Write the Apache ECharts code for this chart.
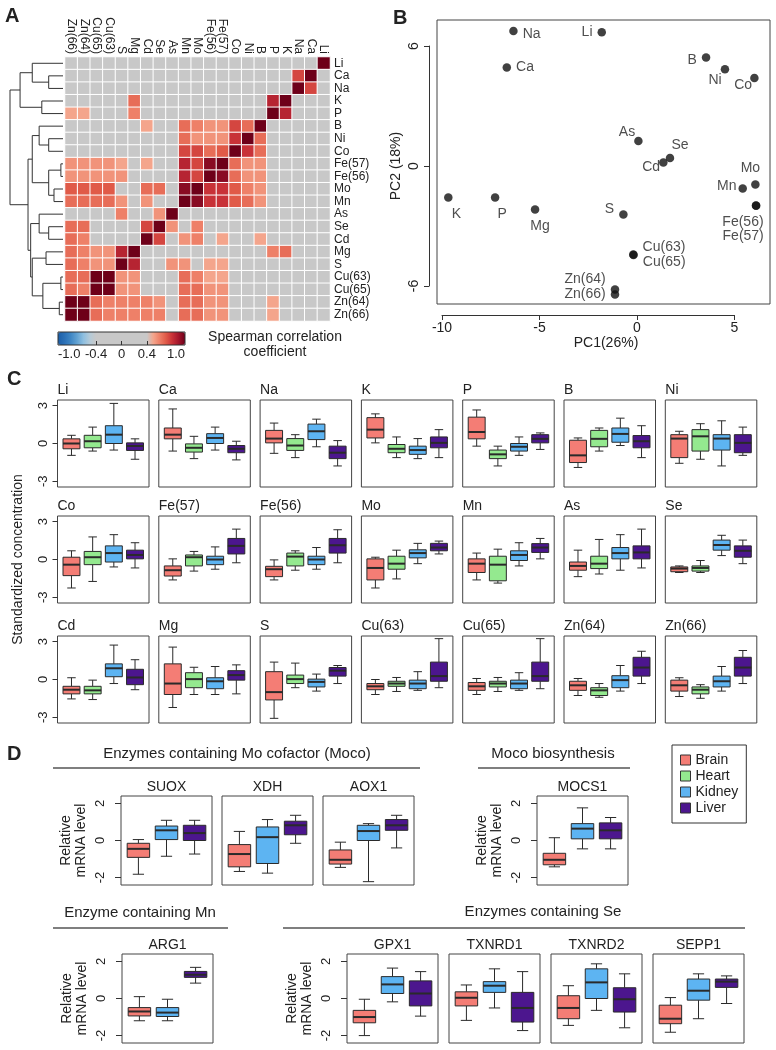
<!DOCTYPE html>
<html>
<head>
<meta charset="utf-8">
<script src="https://cdn.jsdelivr.net/npm/echarts@6/dist/echarts.min.js"></script>
<style>
  html, body { margin: 0; padding: 0; background: #fff; }
  #chart { width: 776px; height: 1050px; }
</style>
</head>
<body>
<div id="chart"></div>
<script>
const FONT = '"Liberation Sans", Arial, Helvetica, sans-serif';
const INK = '#222';

// ---------- A: correlation heatmap ----------
const elementRows = ['Li', 'Ca', 'Na', 'K', 'P', 'B', 'Ni', 'Co', 'Fe(57)', 'Fe(56)', 'Mo', 'Mn',
  'As', 'Se', 'Cd', 'Mg', 'S', 'Cu(63)', 'Cu(65)', 'Zn(64)', 'Zn(66)'];
const elementCols = ['Zn(66)', 'Zn(64)', 'Cu(65)', 'Cu(63)', 'S', 'Mg', 'Cd', 'Se', 'As', 'Mn', 'Mo',
  'Fe(56)', 'Fe(57)', 'Co', 'Ni', 'B', 'P', 'K', 'Na', 'Ca', 'Li'];
// one row per element (elementRows order), columns in elementCols order; 0 = not significant
const corrValues = [
  [0, 0, 0, 0, 0, 0, 0, 0, 0, 0, 0, 0, 0, 0, 0, 0, 0, 0, 0, 0, 1],
  [0, 0, 0, 0, 0, 0, 0, 0, 0, 0, 0, 0, 0, 0, 0, 0, 0, 0, .75, 1, 0],
  [0, 0, 0, 0, 0, 0, 0, 0, 0, 0, 0, 0, 0, 0, 0, 0, 0, 0, 1, .75, 0],
  [0, 0, 0, 0, 0, .65, 0, 0, 0, 0, 0, 0, 0, 0, 0, 0, .85, 1, 0, 0, 0],
  [.5, .5, 0, 0, 0, .6, 0, 0, 0, 0, 0, 0, 0, 0, 0, 0, 1, .85, 0, 0, 0],
  [0, 0, 0, 0, 0, 0, .5, 0, 0, .65, .6, .55, .55, .75, .65, 1, 0, 0, 0, 0, 0],
  [0, 0, 0, 0, 0, 0, 0, 0, 0, .65, .55, .55, .55, .8, 1, .65, 0, 0, 0, 0, 0],
  [0, 0, 0, 0, 0, 0, 0, 0, 0, .75, .75, .65, .7, 1, .8, .65, 0, 0, 0, 0, 0],
  [.55, .55, .55, .55, .5, 0, .5, 0, 0, .85, .75, .95, 1, .65, .55, .55, 0, 0, 0, 0, 0],
  [.55, .55, .55, .55, .55, 0, 0, 0, 0, .85, .75, 1, .95, .65, .55, .55, 0, 0, 0, 0, 0],
  [.7, .7, .7, .7, 0, 0, .65, .65, 0, .95, 1, .8, .8, .7, .6, .55, 0, 0, 0, 0, 0],
  [.65, .65, .65, .65, .55, 0, .55, 0, 0, 1, .95, .8, .8, .7, .65, .55, 0, 0, 0, 0, 0],
  [0, 0, 0, 0, .6, 0, 0, .55, 1, 0, 0, 0, 0, 0, 0, 0, 0, 0, 0, 0, 0],
  [.65, .65, 0, 0, 0, 0, .75, 1, .55, 0, .6, 0, 0, 0, 0, 0, 0, 0, 0, 0, 0],
  [.65, .6, 0, 0, 0, 0, 1, .75, 0, .55, .6, 0, .5, 0, 0, .5, 0, 0, 0, 0, 0],
  [.65, .6, .55, .55, .85, 1, 0, 0, 0, 0, 0, 0, 0, 0, 0, 0, .6, .65, 0, 0, 0],
  [.65, .6, .55, .55, 1, .85, 0, 0, .55, .55, 0, .5, .5, 0, 0, 0, 0, 0, 0, 0, 0],
  [.65, .65, 1, 1, .55, .55, 0, 0, 0, .65, .6, .5, .5, 0, 0, 0, 0, 0, 0, 0, 0],
  [.65, .6, 1, 1, .55, .55, 0, 0, 0, .65, .65, .55, .55, 0, 0, 0, 0, 0, 0, 0, 0],
  [1, 1, .65, .6, .6, .6, .6, .55, 0, .65, .65, .55, .55, 0, 0, 0, .5, 0, 0, 0, 0],
  [1, 1, .65, .6, .6, .6, .6, .6, 0, .65, .65, .55, .55, 0, 0, 0, .5, 0, 0, 0, 0]
];
// dendrogram merges: [left, right, height]; strings are leaves, numbers refer to earlier merges
const dendroMerges = [
  ['Ca', 'Na', 0.27], ['Li', 0, 0.58], ['K', 'P', 0.40], [1, 2, 0.81],
  ['Ni', 'Co', 0.27], ['B', 4, 0.45], ['Fe(57)', 'Fe(56)', 0.04], ['Mo', 'Mn', 0.17],
  [6, 7, 0.27], [5, 8, 0.58], ['Se', 'Cd', 0.27], ['As', 10, 0.45],
  ['Mg', 'S', 0.32], ['Cu(63)', 'Cu(65)', 0.04], ['Zn(64)', 'Zn(66)', 0.07], [13, 14, 0.38],
  [12, 15, 0.58], [11, 16, 0.61], [9, 17, 0.66], [3, 18, 1.0]
];
const colorbarLabels = [-1.0, -0.4, 0, 0.4, 1.0];

// ---------- B: PCA ----------
const pcaNames = ['Na', 'Li', 'Ca', 'B', 'Ni', 'Co', 'As', 'Se', 'Cd', 'Mo', 'Mn', 'Fe(56)', 'Fe(57)',
  'K', 'P', 'Mg', 'S', 'Cu(63)', 'Cu(65)', 'Zn(64)', 'Zn(66)'];
const pcaX = [-6.34, -1.81, -6.68, 3.54, 4.51, 6.02, 0.07, 1.69, 1.35, 6.07, 5.42, 6.10, 6.11,
  -9.68, -7.28, -5.23, -0.70, -0.19, -0.18, -1.13, -1.13];
const pcaY = [6.75, 6.69, 4.92, 5.42, 4.84, 4.40, 1.25, 0.40, 0.17, -0.92, -1.13, -1.97, -1.99,
  -1.58, -1.58, -2.18, -2.42, -4.43, -4.45, -6.18, -6.42];

// ---------- C: standardized concentrations, [min, q1, median, q3, max] per element ----------
const cElements = elementRows;
const cBrain = [
  [-0.94, -0.42, 0, 0.37, 0.65], [-0.6, 0.37, 0.7, 1.23, 2.74], [-0.78, 0.05, 0.39, 1.04, 1.62],
  [0.05, 0.44, 1.1, 2.05, 2.35], [-0.21, 0.37, 0.91, 2.09, 2.66], [-1.9, -1.51, -0.94, 0.26, 0.44],
  [-1.57, -1.12, 0.39, 0.7, 0.97], [-2.26, -1.28, -0.41, 0.18, 0.69], [-1.62, -1.31, -0.85, -0.51, 0.05],
  [-1.62, -1.36, -0.77, -0.54, -0.03], [-2.26, -1.62, -0.67, 0.05, 0.18], [-1.62, -1.03, -0.33, 0.05, 0.51],
  [-1.36, -0.85, -0.51, -0.2, 0.74], [-1.03, -0.97, -0.72, -0.59, -0.51], [-1.54, -1.14, -0.81, -0.54, 0.14],
  [-2.22, -1.19, -0.32, 1.24, 2.57], [-3.08, -1.62, -1.0, 0.62, 1.38], [-1.19, -0.81, -0.54, -0.32, 0],
  [-1.19, -0.86, -0.54, -0.24, 0.08], [-1.27, -0.86, -0.46, -0.14, 0.08], [-1.35, -0.92, -0.46, -0.05, 0.14]
];
const cHeart = [
  [-0.6, -0.34, 0.18, 0.65, 1.3], [-1.2, -0.68, -0.34, -0.03, 0.57], [-1.12, -0.55, -0.16, 0.39, 0.7],
  [-1.12, -0.73, -0.42, -0.08, 0.52], [-1.78, -1.2, -0.86, -0.52, -0.21], [-0.6, -0.26, 0.37, 1.04, 1.23],
  [-1.25, -0.6, 0.57, 1.1, 1.57], [-1.74, -0.41, 0.18, 0.64, 1.79], [-0.92, -0.51, 0.18, 0.36, 0.64],
  [-0.85, -0.51, 0.23, 0.51, 0.69], [-1.54, -0.77, -0.33, 0.26, 0.74], [-1.87, -1.69, -0.41, 0.26, 0.82],
  [-1.15, -0.72, -0.33, 0.26, 1.59], [-1.03, -0.92, -0.67, -0.51, -0.08], [-1.59, -1.14, -0.86, -0.54, -0.05],
  [-1.19, -0.65, 0.03, 0.54, 0.97], [-0.65, -0.32, 0.03, 0.35, 1.3], [-0.95, -0.54, -0.32, -0.14, 0.16],
  [-0.95, -0.59, -0.32, -0.14, 0.16], [-1.41, -1.27, -0.86, -0.65, -0.32], [-1.49, -1.14, -0.81, -0.59, -0.41]
];
const cKidney = [
  [-0.52, 0, 0.7, 1.41, 3.18], [-0.52, 0, 0.44, 0.78, 1.3], [-0.26, 0.31, 0.97, 1.54, 1.93],
  [-1.2, -0.86, -0.52, -0.21, 0.39], [-0.94, -0.6, -0.26, 0, 0.52], [-0.16, 0.1, 0.76, 1.23, 2.01],
  [-1.78, -0.52, 0.39, 0.7, 1.8], [-0.59, -0.2, 0.51, 1.08, 1.97], [-0.77, -0.41, 0, 0.26, 1.0],
  [-0.77, -0.41, 0, 0.26, 0.95], [-0.33, 0.13, 0.51, 0.77, 1.28], [-0.51, -0.08, 0.36, 0.69, 1.33],
  [-0.85, 0.05, 0.51, 0.95, 1.97], [0.31, 0.74, 1.15, 1.54, 1.92], [-0.32, 0.22, 0.89, 1.24, 2.73],
  [-1.19, -0.73, -0.14, 0.14, 1.03], [-0.92, -0.59, -0.19, 0.03, 0.43], [-0.86, -0.73, -0.32, -0.05, 0.62],
  [-0.86, -0.73, -0.32, -0.05, 0.54], [-0.92, -0.65, -0.05, 0.3, 1.11], [-0.92, -0.59, -0.14, 0.27, 1.03]
];
const cLiver = [
  [-1.25, -0.55, -0.2, 0.05, 0.37], [-1.3, -0.73, -0.42, -0.16, 0.18], [-1.78, -1.2, -0.73, -0.21, 0.23],
  [-1.12, -0.34, 0.05, 0.52, 1.1], [-0.47, 0.05, 0.37, 0.7, 0.84], [-1.12, -0.34, 0.18, 0.63, 1.41],
  [-0.94, -0.73, 0.05, 0.7, 1.3], [-0.67, 0.05, 0.36, 0.74, 1.33], [-0.26, 0.44, 1.08, 1.67, 2.41],
  [-0.26, 0.51, 1.13, 1.67, 2.36], [0.44, 0.69, 0.95, 1.28, 1.46], [0.05, 0.56, 0.95, 1.26, 1.67],
  [-0.67, 0.05, 0.56, 1.08, 2.41], [-0.33, 0.18, 0.69, 1.08, 1.54], [-0.81, -0.41, 0.16, 0.81, 1.57],
  [-1.14, -0.05, 0.35, 0.7, 1.16], [-0.32, 0.27, 0.7, 0.95, 1.11], [-0.65, -0.14, 0.27, 1.38, 3.24],
  [-0.73, -0.14, 0.27, 1.38, 3.24], [-0.32, 0.27, 0.95, 1.76, 2.24], [-0.32, 0.27, 0.95, 1.76, 2.3]
];

// ---------- D: relative mRNA levels, [min, q1, median, q3, max] ----------
const dGenes = ['SUOX', 'XDH', 'AOX1', 'MOCS1', 'ARG1', 'GPX1', 'TXNRD1', 'TXNRD2', 'SEPP1'];
const dBrain = [
  [-1.82, -0.91, -0.45, -0.15, 0.05], [-1.67, -1.42, -0.73, -0.22, 0.49], [-1.45, -1.27, -1.04, -0.51, -0.09],
  [-1.42, -1.31, -1.04, -0.69, 0.15], [-1.2, -0.94, -0.7, -0.49, 0.1], [-2.0, -1.31, -1.0, -0.64, -0.04],
  [-1.18, -0.4, 0.04, 0.36, 0.73], [-1.45, -1.09, -0.51, 0.15, 0.69], [-1.82, -1.36, -1.09, -0.36, 0.05]
];
const dKidney = [
  [-0.85, 0.05, 0.55, 0.78, 1.09], [-1.76, -1.24, 0.18, 0.73, 1.13], [-2.22, 0, 0.51, 0.82, 0.91],
  [-0.45, 0.09, 0.64, 0.91, 1.76], [-1.2, -0.97, -0.76, -0.49, -0.04], [-0.18, 0.27, 0.76, 1.18, 1.64],
  [-0.51, 0.33, 0.69, 0.91, 1.6], [-0.64, 0, 0.87, 1.6, 1.87], [-1.09, -0.09, 0.42, 1.05, 1.33]
];
const dLiver = [
  [-0.73, 0, 0.4, 0.82, 1.09], [-0.15, 0.31, 0.82, 1.04, 1.36], [-0.4, 0.55, 0.82, 1.13, 1.36],
  [-0.45, 0.09, 0.55, 0.95, 1.24], [0.83, 1.14, 1.28, 1.46, 1.68], [-0.95, -0.4, 0.27, 0.95, 1.45],
  [-1.73, -1.27, -0.51, 0.33, 1.45], [-1.58, -0.73, -0.04, 0.58, 1.33], [-0.27, 0.6, 0.91, 1.05, 1.22]
];

const tissueNames = ['Brain', 'Heart', 'Kidney', 'Liver'];
const tissueColors = ['#f47d75', '#94e98f', '#5db4f2', '#4c168e'];

// ---------- layout ----------
const cLefts = [57.5, 158.8, 260.1, 361.4, 462.7, 564, 665.3];
const cTops = [400, 516, 636];
const C_W = 91.5, C_H = 87;
const dPanels = [[121, 796], [222, 796], [323, 796], [537, 796], [122, 954], [347, 954], [449, 954], [551, 954], [653, 954]];
const dWithAxis = [true, false, false, true, true, true, false, false, false];
const D_W = 91, D_H = 89;
const pcaLabelPos = {
  'Na': ['right', [0, 3]], 'Li': ['left', [0, 0]], 'Ca': ['right', [0, 0]], 'B': ['left', [0, 3]],
  'Ni': ['left', [6, 11]], 'Co': ['left', [7, 7]], 'As': ['left', [6, -9]], 'Se': ['top', [10, 3]],
  'Cd': ['left', [6, 5]], 'Mo': ['top', [-5, 0]], 'Mn': ['left', [3, -2]], 'Fe(56)': ['bottom', [-13, 0]],
  'Fe(57)': ['bottom', [-13, 14]], 'K': ['bottom', [8, 0]], 'P': ['bottom', [7, 0]], 'Mg': ['bottom', [5, 0]],
  'S': ['left', [0, -5]], 'Cu(63)': ['right', [0, -7]], 'Cu(65)': ['right', [0, 7]],
  'Zn(64)': ['left', [0, -10]], 'Zn(66)': ['left', [0, 0]]
};

function txt(size, extra) {
  return Object.assign({ fontFamily: FONT, fontSize: size, color: INK, fontWeight: 'normal' }, extra || {});
}

function renderBox(params, api) {
  const x = api.value(0);
  const lo = api.coord([x, api.value(1)]);
  const q1 = api.coord([x, api.value(2)]);
  const md = api.coord([x, api.value(3)]);
  const q3 = api.coord([x, api.value(4)]);
  const hi = api.coord([x, api.value(5)]);
  const w = api.size([0.8, 0])[0];
  const cx = md[0];
  const ink = { stroke: '#2a2a2a', lineWidth: 1 };
  return {
    type: 'group',
    children: [
      { type: 'line', shape: { x1: cx, y1: hi[1], x2: cx, y2: q3[1] }, style: ink },
      { type: 'line', shape: { x1: cx, y1: q1[1], x2: cx, y2: lo[1] }, style: ink },
      { type: 'line', shape: { x1: cx - w / 4, y1: hi[1], x2: cx + w / 4, y2: hi[1] }, style: ink },
      { type: 'line', shape: { x1: cx - w / 4, y1: lo[1], x2: cx + w / 4, y2: lo[1] }, style: ink },
      { type: 'rect', shape: { x: cx - w / 2, y: q3[1], width: w, height: q1[1] - q3[1] },
        style: { fill: api.visual('color'), stroke: '#2a2a2a', lineWidth: 1 } },
      { type: 'line', shape: { x1: cx - w / 2, y1: md[1], x2: cx + w / 2, y2: md[1] },
        style: { stroke: '#2a2a2a', lineWidth: 2 } }
    ]
  };
}

const grids = [], xAxes = [], yAxes = [], series = [], titles = [];
function addGrid(g, xa, ya) {
  const idx = grids.length;
  grids.push(g);
  xAxes.push(Object.assign({ gridIndex: idx }, xa));
  yAxes.push(Object.assign({ gridIndex: idx }, ya));
  return idx;
}
const hidden = { type: 'value', show: false };

// A: heatmap grid
const gHeat = addGrid({ left: 65, top: 57, width: 265, height: 264 },
  { type: 'category', data: elementCols, position: 'top',
    axisLine: { show: false }, axisTick: { show: false },
    axisLabel: Object.assign({ rotate: 90, interval: 0, margin: 3 }, txt(12)) },
  { type: 'category', data: elementRows, inverse: true, position: 'right',
    axisLine: { show: false }, axisTick: { show: false },
    axisLabel: Object.assign({ interval: 0, margin: 4 }, txt(12)) });
const heatData = [];
corrValues.forEach((row, r) => row.forEach((v, c) => heatData.push([c, r, v])));
series.push({ type: 'heatmap', xAxisIndex: gHeat, yAxisIndex: gHeat, data: heatData,
  itemStyle: { borderColor: '#fff', borderWidth: 1 }, emphasis: { disabled: true } });

// A: dendrogram
const gDen = addGrid({ left: 10, top: 57, width: 53, height: 264 },
  { type: 'value', min: 0, max: 1, inverse: true, show: false },
  { type: 'value', min: -0.5, max: 20.5, inverse: true, show: false });
const denNodes = [], denLines = [];
dendroMerges.forEach(([a, b, h]) => {
  const pos = ref => typeof ref === 'string' ? { y: elementRows.indexOf(ref), h: 0 } : denNodes[ref];
  const A = pos(a), B = pos(b);
  denLines.push({ coords: [[A.h, A.y], [h, A.y], [h, B.y], [B.h, B.y]] });
  denNodes.push({ y: (A.y + B.y) / 2, h });
});
series.push({ type: 'lines', coordinateSystem: 'cartesian2d', xAxisIndex: gDen, yAxisIndex: gDen,
  polyline: true, data: denLines, silent: true,
  lineStyle: { color: '#333', width: 1, opacity: 1 } });

// A: colorbar axis
const gBar = addGrid({ left: 58, top: 332, width: 127, height: 13, show: true, borderColor: '#333', borderWidth: 1, z: 10 },
  { type: 'value', min: -1, max: 1, position: 'bottom', z: 10,
    axisLine: { show: false },
    axisTick: { show: true, inside: true, length: 4, customValues: [-0.4, 0, 0.4], lineStyle: { color: '#333' } },
    axisLabel: Object.assign({ customValues: colorbarLabels, margin: 3, alignMinLabel: 'left', alignMaxLabel: 'right',
      formatter: v => (v === 0 ? '0' : v.toFixed(1)) }, txt(13)),
    splitLine: { show: false } },
  hidden);

// B: scatter
const gPca = addGrid({ left: 437, top: 20, width: 333, height: 284, show: true, borderColor: '#444', borderWidth: 1 },
  { type: 'value', min: -10.26, max: 6.82, show: false },
  { type: 'value', min: -6.9, max: 7.3, show: false });
series.push({
  type: 'scatter', xAxisIndex: gPca, yAxisIndex: gPca, symbolSize: 8.5,
  itemStyle: { color: '#111' },
  data: pcaNames.map((n, i) => ({
    name: n, value: [pcaX[i], pcaY[i]],
    label: { show: true, formatter: '{b}', position: pcaLabelPos[n][0], offset: pcaLabelPos[n][1],
      distance: 5, fontFamily: FONT, fontSize: 14, color: INK }
  }))
});
const axisInk = { lineStyle: { color: '#333', width: 1 } };
addGrid({ left: 442, top: 300, width: 292.5, height: 15 },
  { type: 'value', min: -10, max: 5, interval: 5, position: 'bottom',
    axisLine: Object.assign({ show: true }, axisInk), axisTick: Object.assign({ show: true, length: 5 }, axisInk),
    axisLabel: Object.assign({ margin: 6 }, txt(14)), splitLine: { show: false } },
  hidden);
addGrid({ left: 429, top: 46, width: 10, height: 240 },
  hidden,
  { type: 'value', min: -6, max: 6, interval: 6, position: 'left',
    axisLine: Object.assign({ show: true }, axisInk), axisTick: Object.assign({ show: true, length: 5 }, axisInk),
    axisLabel: Object.assign({ rotate: 90, margin: 8 }, txt(14)), splitLine: { show: false },
    name: 'PC2 (18%)', nameLocation: 'middle', nameGap: 26, nameTextStyle: txt(14) });

// C: boxplot panels
const cColumns = [cBrain, cHeart, cKidney, cLiver];
cElements.forEach((el, i) => {
  const col = i % 7, row = Math.floor(i / 7);
  const withAxis = col === 0;
  const g = addGrid({ left: cLefts[col], top: cTops[row], width: C_W, height: C_H, show: true, borderColor: '#444', borderWidth: 1 },
    { type: 'value', min: 0.34, max: 4.66, show: false },
    { type: 'value', min: -3.45, max: 3.45, show: withAxis,
      axisLine: { show: false }, splitLine: { show: false },
      axisTick: Object.assign({ show: true, length: 5, customValues: [-3, 0, 3] }, axisInk),
      axisLabel: Object.assign({ customValues: [-3, 0, 3], rotate: 90, margin: 8 }, txt(13)),
      name: withAxis && row === 1 ? 'Standardized concentration' : '',
      nameLocation: 'middle', nameGap: 32, nameTextStyle: txt(14) });
  titles.push({ text: el, left: cLefts[col], top: cTops[row] - 17, padding: 0, textStyle: txt(14) });
  cColumns.forEach((arr, t) => {
    series.push({ type: 'custom', name: tissueNames[t], xAxisIndex: g, yAxisIndex: g,
      itemStyle: { color: tissueColors[t] }, renderItem: renderBox,
      encode: { x: 0, y: [1, 2, 3, 4, 5] }, data: [[t + 1].concat(arr[i])] });
  });
});

// D: mRNA panels (Brain, Kidney, Liver)
const dColumns = [[dBrain, 0], [dKidney, 2], [dLiver, 3]];
dGenes.forEach((gene, i) => {
  const [left, top] = dPanels[i];
  const g = addGrid({ left, top, width: D_W, height: D_H, show: true, borderColor: '#444', borderWidth: 1 },
    { type: 'value', min: 0.38, max: 3.62, show: false },
    { type: 'value', min: -2.4, max: 2.4, show: dWithAxis[i],
      axisLine: { show: false }, splitLine: { show: false },
      axisTick: Object.assign({ show: true, length: 6, customValues: [-2, 0, 2] }, axisInk),
      axisLabel: Object.assign({ customValues: [-2, 0, 2], rotate: 90, margin: 14 }, txt(13)),
      name: dWithAxis[i] ? 'Relative\nmRNA level' : '', nameLocation: 'middle', nameGap: 32,
      nameTextStyle: txt(14, { lineHeight: 15 }) });
  titles.push({ text: gene, left: left + D_W / 2, textAlign: 'center', top: top - 16, padding: 0, textStyle: txt(14) });
  dColumns.forEach(([arr, t], k) => {
    series.push({ type: 'custom', name: tissueNames[t], xAxisIndex: g, yAxisIndex: g,
      itemStyle: { color: tissueColors[t] }, renderItem: renderBox,
      encode: { x: 0, y: [1, 2, 3, 4, 5] }, data: [[k + 1].concat(arr[i])] });
  });
});

// text blocks
titles.push(
  { text: 'A', left: 5, top: 6, padding: 0, textStyle: txt(20, { fontWeight: 'bold' }) },
  { text: 'B', left: 393, top: 8, padding: 0, textStyle: txt(20, { fontWeight: 'bold' }) },
  { text: 'C', left: 7, top: 369, padding: 0, textStyle: txt(20, { fontWeight: 'bold' }) },
  { text: 'D', left: 7, top: 744, padding: 0, textStyle: txt(20, { fontWeight: 'bold' }) },
  { text: 'Spearman correlation\ncoefficient', left: 275, textAlign: 'center', top: 330, padding: 0,
    textStyle: txt(14, { lineHeight: 15 }) },
  { text: 'PC1(26%)', left: 606, textAlign: 'center', top: 336, padding: 0, textStyle: txt(14) },
  { text: 'Enzymes containing Mo cofactor (Moco)', left: 237, textAlign: 'center', top: 746, padding: 0, textStyle: txt(15) },
  { text: 'Moco biosynthesis', left: 553, textAlign: 'center', top: 746, padding: 0, textStyle: txt(15) },
  { text: 'Enzyme containing Mn', left: 140, textAlign: 'center', top: 905, padding: 0, textStyle: txt(15) },
  { text: 'Enzymes containing Se', left: 543, textAlign: 'center', top: 904, padding: 0, textStyle: txt(15) }
);

const rule = (x1, x2, y) => ({ type: 'line', shape: { x1, y1: y, x2, y2: y }, style: { stroke: '#555', lineWidth: 1.3 } });

const chart = echarts.init(document.getElementById('chart'), null, { renderer: 'canvas' });
chart.setOption({
  animation: false,
  backgroundColor: '#fff',
  title: titles,
  grid: grids,
  xAxis: xAxes,
  yAxis: yAxes,
  visualMap: {
    type: 'continuous', seriesIndex: 0, min: -1, max: 1, calculable: false, hoverLink: false,
    orient: 'horizontal', left: 58, top: 332, itemWidth: 13, itemHeight: 127, padding: 0,
    inRange: { color: ['#1b5ea8', '#2b70b6', '#3f86c4', '#62a2d2', '#8ebfe0', '#b4cad8',
      '#c8c8c8', '#c8c8c8', '#c8c8c8', '#c8c8c8', '#c8c8c8', '#c8c8c8', '#c8c8c8', '#c8c8c8', '#c8c8c8',
      '#f4a58c', '#ee8068', '#e05a48', '#c83238', '#a3162c', '#6e0019'] }
  },
  legend: {
    data: tissueNames, orient: 'vertical', left: 672, top: 745, selectedMode: false,
    icon: 'rect', itemWidth: 10, itemHeight: 10, itemGap: 2, padding: [8, 8],
    borderColor: '#333', borderWidth: 1,
    itemStyle: { borderColor: '#333', borderWidth: 1 },
    textStyle: txt(14, { lineHeight: 14 })
  },
  graphic: [rule(53, 420, 768), rule(478, 630, 768), rule(53, 228, 928), rule(283, 745, 928)],
  series
});
window.addEventListener('resize', () => chart.resize());
</script>
</body>
</html>
